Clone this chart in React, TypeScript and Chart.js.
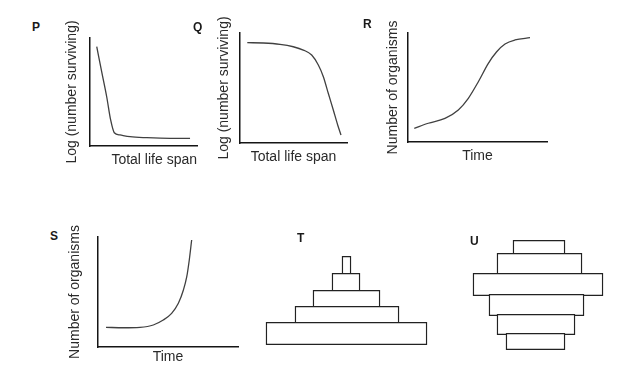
import React, { useEffect, useRef } from "react";
import { Chart, registerables } from "chart.js";

Chart.register(...registerables);

const FONT = "'Liberation Sans', Arial, Helvetica, sans-serif";
Chart.defaults.font.family = FONT;

// ---- Curve data (x: share of axis length, y: relative level) ----
const pX = [6.3, 10.9, 15.6, 19.3, 22.7, 28.0, 37.4, 53.0, 74.8, 93.5];
const pY = [91.9, 68.8, 45.6, 24.1, 12.3, 10.2, 8.6, 7.7, 7.1, 7.1];

const qX = [6.8, 21.8, 37.4, 49.8, 59.2, 67.0, 73.2, 77.9, 82.5, 87.2, 91.3, 94.4];
const qY = [91.2, 90.9, 89.7, 87.5, 84.5, 80, 70.9, 60.3, 45.2, 30, 16.4, 7.3];

const rX = [4.5, 14.6, 26.6, 36.2, 43.4, 50.6, 57.8, 63.8, 69.8, 77.0, 87.8];
const rY = [12.6, 17.2, 21.7, 29.4, 40.1, 55.3, 72.2, 82.8, 89.9, 93.6, 95.7];

const sX = [5.7, 18.1, 30, 39.5, 46.6, 52.6, 57.4, 61, 63.4, 65.2, 66.9];
const sY = [17.9, 17.5, 17.9, 20, 24.5, 30.6, 39.7, 51.8, 63.9, 79.1, 97.3];

// ---- Age pyramids, rows listed from bottom to top ----
const tLeft = [-80.5, -51.5, -33.5, -14.5, -4.5];
const tRight = [80.5, 52.5, 33.5, 13.5, 4.5];
const tHeight = [21, 16, 16, 17, 17];

const uLeft = [-32, -41, -49, -65, -41, -25];
const uRight = [27, 37, 46, 65, 44, 27];
const uHeight = [15, 19, 20, 21, 20, 13];

// ---- Text ----
const survivalY = "Log (number surviving)";
const survivalX = "Total life span";
const growthY = "Number of organisms";
const growthX = "Time";

const TITLE_SIZE = 14;
const LH = TITLE_SIZE * 1.2;

type Box = { left: number; top: number; right: number; bottom: number };

function LineChart(props: {
  xs: number[];
  ys: number[];
  xTitle: string;
  yTitle: string;
  box: Box;
  yDist: number;
  xDist: number;
  xAlign?: "start" | "center" | "end";
}) {
  const ref = useRef<HTMLCanvasElement>(null);
  const { box, yDist, xDist } = props;
  const Wy = yDist + LH / 2;
  const Hx = xDist + LH / 2;
  const padL = 4, padT = 30, padR = 4, padB = 8;
  const rawLeft = box.left - Wy - padL;
  const cLeft = Math.floor(rawLeft);
  const leftPad = padL + (rawLeft - cLeft);
  const cTop = box.top - padT;
  const w = Math.ceil(box.right + padR - cLeft);
  const rightPad = cLeft + w - box.right;
  const h = Math.ceil(padT + (box.bottom - box.top) + Hx + padB);
  const bottomPad = h - padT - (box.bottom - box.top) - Hx;

  useEffect(() => {
    if (!ref.current) return;
    const chart = new Chart(ref.current, {
      type: "line",
      data: {
        datasets: [
          {
            data: props.xs.map((x, i) => ({ x, y: props.ys[i] })),
            borderColor: "#404040",
            borderWidth: 1.3,
            pointRadius: 0,
            cubicInterpolationMode: "monotone",
            fill: false,
          },
        ],
      },
      options: {
        responsive: false,
        animation: false,
        events: [],
        layout: { padding: { left: leftPad, top: padT, right: rightPad, bottom: bottomPad } },
        plugins: { legend: { display: false }, tooltip: { enabled: false } },
        scales: {
          x: {
            type: "linear",
            min: 0,
            max: 100,
            ticks: { display: false },
            grid: { display: false, drawTicks: false },
            border: { display: true, color: "#151515", width: 1.5 },
            title: {
              display: true,
              text: props.xTitle,
              color: "#2a2a2a",
              align: props.xAlign || "center",
              font: { size: TITLE_SIZE, lineHeight: 1.2, family: FONT },
              padding: { top: xDist - LH / 2, bottom: 0 },
            },
          },
          y: {
            type: "linear",
            min: 0,
            max: 100,
            ticks: { display: false },
            grid: { display: false, drawTicks: false },
            border: { display: true, color: "#151515", width: 1.5 },
            title: {
              display: true,
              text: props.yTitle,
              color: "#2a2a2a",
              font: { size: TITLE_SIZE, lineHeight: 1.2, family: FONT },
              padding: { top: 0, bottom: yDist - LH / 2 },
            },
          },
        },
      },
    });
    return () => chart.destroy();
  }, []);

  return (
    <canvas
      ref={ref}
      width={w}
      height={h}
      style={{ position: "absolute", left: cLeft, top: cTop, width: w, height: h }}
    />
  );
}

function Pyramid(props: {
  lefts: number[];
  rights: number[];
  heights: number[];
  left: number;
  top: number;
  width: number;
  height: number;
  xMin: number;
  xMax: number;
  yMin: number;
  yMax: number;
}) {
  const ref = useRef<HTMLCanvasElement>(null);
  useEffect(() => {
    if (!ref.current) return;
    const bw = 1.4;
    const pxPerUnit = props.height / (props.yMax - props.yMin);
    let base = 0;
    const datasets = props.heights.map((hh, i) => {
      const center = base + hh / 2;
      base += hh;
      return {
        data: [{ x: [props.lefts[i], props.rights[i]], y: center }],
        barThickness: hh * pxPerUnit + bw,
        backgroundColor: "#ffffff",
        borderColor: "#222222",
        borderWidth: bw,
        borderSkipped: false,
        grouped: false,
      };
    });
    const chart = new Chart(ref.current, {
      type: "bar",
      data: { datasets: datasets as any },
      options: {
        indexAxis: "y",
        responsive: false,
        animation: false,
        events: [],
        layout: { padding: 0 },
        plugins: { legend: { display: false }, tooltip: { enabled: false } },
        scales: {
          x: { type: "linear", min: props.xMin, max: props.xMax, display: false, offset: false },
          y: {
            type: "linear",
            min: props.yMin,
            max: props.yMax,
            display: false,
            offset: false,
            grid: { offset: false },
          },
        },
      },
    });
    return () => chart.destroy();
  }, []);
  return (
    <canvas
      ref={ref}
      width={props.width}
      height={props.height}
      style={{
        position: "absolute",
        left: props.left,
        top: props.top,
        width: props.width,
        height: props.height,
      }}
    />
  );
}

const letterStyle = (left: number, top: number): React.CSSProperties => ({
  position: "absolute",
  left,
  top,
  fontFamily: FONT,
  fontWeight: "bold",
  fontSize: 12,
  lineHeight: "12px",
  color: "#1a1a1a",
});

export default function App() {
  return (
    <div
      style={{
        position: "absolute",
        left: 0,
        top: 0,
        width: 624,
        height: 369,
        background: "#fff",
        overflow: "hidden",
      }}
    >
      <LineChart
        xs={pX}
        ys={pY}
        xTitle={survivalX}
        yTitle={survivalY}
        box={{ left: 90, top: 38, right: 197, bottom: 146 }}
        yDist={18}
        xDist={14}
        xAlign="end"
      />
      <LineChart
        xs={qX}
        ys={qY}
        xTitle={survivalX}
        yTitle={survivalY}
        box={{ left: 240, top: 33, right: 347, bottom: 143 }}
        yDist={16}
        xDist={13.7}
      />
      <LineChart
        xs={rX}
        ys={rY}
        xTitle={growthX}
        yTitle={growthY}
        box={{ left: 408, top: 33, right: 547, bottom: 142 }}
        yDist={15}
        xDist={13.8}
      />
      <LineChart
        xs={sX}
        ys={sY}
        xTitle={growthX}
        yTitle={growthY}
        box={{ left: 98, top: 237, right: 238, bottom: 347 }}
        yDist={22.5}
        xDist={9.8}
      />
      <Pyramid
        lefts={tLeft}
        rights={tRight}
        heights={tHeight}
        left={256}
        top={250}
        width={181}
        height={100}
        xMin={-90.5}
        xMax={90.5}
        yMin={-6}
        yMax={94}
      />
      <Pyramid
        lefts={uLeft}
        rights={uRight}
        heights={uHeight}
        left={463}
        top={235}
        width={150}
        height={120}
        xMin={-75}
        xMax={75}
        yMin={-6}
        yMax={114}
      />
      <div style={letterStyle(32, 21)}>P</div>
      <div style={letterStyle(193, 21)}>Q</div>
      <div style={letterStyle(363, 18)}>R</div>
      <div style={letterStyle(50, 230)}>S</div>
      <div style={letterStyle(297, 232)}>T</div>
      <div style={letterStyle(470, 235)}>U</div>
    </div>
  );
}
